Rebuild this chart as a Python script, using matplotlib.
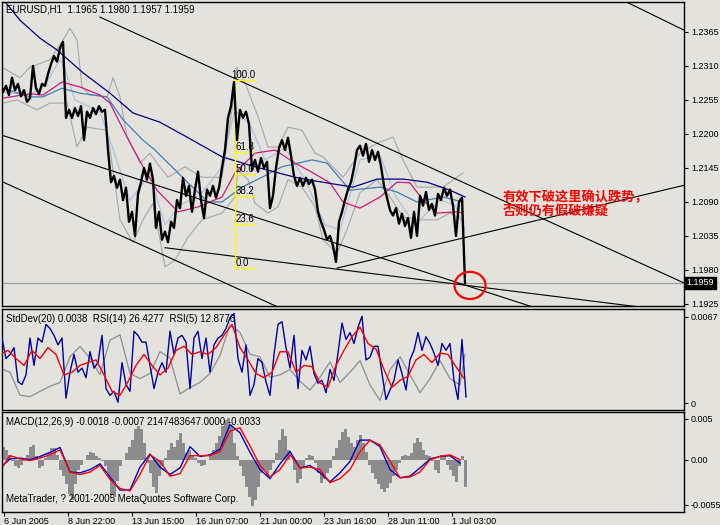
import numpy as np
import matplotlib.pyplot as plt
from matplotlib.patches import Ellipse
from matplotlib.transforms import blended_transform_factory

plt.rcParams['font.family'] = ['Liberation Sans', 'DejaVu Sans']
BG = '#e3e2dd'

# ---- main window: EURUSD H1, bar number on x ----
price_bars = np.arange(3, 466, 3)
price = [1.2268, 1.2278, 1.2263, 1.2291, 1.2271, 1.2281, 1.2261, 1.2271, 1.2252, 1.2258,
         1.2310, 1.2274, 1.2265, 1.2281, 1.2278, 1.2297, 1.2313, 1.2326, 1.2317, 1.2339,
         1.2349, 1.2226, 1.2239, 1.2226, 1.2242, 1.2229, 1.2245, 1.2190, 1.2236, 1.2226,
         1.2242, 1.2232, 1.2245, 1.2236, 1.2239, 1.2174, 1.2122, 1.2132, 1.2113, 1.2126,
         1.2093, 1.2113, 1.2058, 1.2074, 1.2035, 1.2103, 1.2122, 1.2145, 1.2126, 1.2152,
         1.2126, 1.2048, 1.2074, 1.2029, 1.2042, 1.2025, 1.2058, 1.2048, 1.2093, 1.2080,
         1.2129, 1.2100, 1.2116, 1.2074, 1.2110, 1.2139, 1.2093, 1.2064, 1.2110, 1.2100,
         1.2116, 1.2097, 1.2113, 1.2145, 1.2174, 1.2226, 1.2245, 1.2284, 1.2190, 1.2239,
         1.2226, 1.2236, 1.2216, 1.2142, 1.2158, 1.2139, 1.2161, 1.2145, 1.2155, 1.2080,
         1.2100, 1.2145, 1.2177, 1.2190, 1.2174, 1.2194, 1.2165, 1.2132, 1.2116, 1.2129,
         1.2116, 1.2129, 1.2119, 1.2126, 1.2110, 1.2074, 1.2058, 1.2045, 1.2029, 1.2035,
         1.2019, 1.1993, 1.2058, 1.2074, 1.2093, 1.2110, 1.2122, 1.2145, 1.2174, 1.2181,
         1.2165, 1.2184, 1.2155, 1.2174, 1.2158, 1.2171, 1.2148, 1.2116, 1.2097, 1.2077,
         1.2068, 1.2080, 1.2055, 1.2071, 1.2051, 1.2064, 1.2032, 1.2074, 1.2035, 1.2100,
         1.2084, 1.2106, 1.2077, 1.2087, 1.2068, 1.2103, 1.2093, 1.2113, 1.2100, 1.2110,
         1.2084, 1.2035, 1.2090, 1.2097, 1.1959]

ma_slow_bars = [5, 20, 40, 57, 83, 110, 133, 160, 188, 222, 255, 295, 315, 353, 377, 403, 427, 450, 465]
ma_slow = [1.2414, 1.2384, 1.2355, 1.2336, 1.2299, 1.2266, 1.2234, 1.2219, 1.2194, 1.2163,
           1.2147, 1.2130, 1.2124, 1.2114, 1.2127, 1.2127, 1.2122, 1.2109, 1.2098]

ma_mid_bars = [3, 30, 43, 62, 80, 107, 123, 143, 155, 188, 208, 222, 242, 262, 282, 312, 327,
               350, 380, 397, 417, 443, 463]
ma_mid = [1.2274, 1.2260, 1.2260, 1.2274, 1.2266, 1.2260, 1.2223, 1.2190, 1.2174, 1.2121, 1.2090,
          1.2090, 1.2114, 1.2130, 1.2147, 1.2158, 1.2153, 1.2109, 1.2114, 1.2106, 1.2090, 1.2098, 1.2090]

ma_pink_bars = [3, 30, 43, 62, 80, 100, 110, 127, 143, 157, 178, 198, 222, 235, 255, 275, 295,
                312, 330, 343, 360, 380, 397, 410, 423, 437, 457, 463]
ma_pink = [1.2258, 1.2265, 1.2263, 1.2284, 1.2276, 1.2263, 1.2250, 1.2195, 1.2147, 1.2109,
           1.2074, 1.2082, 1.2098, 1.2137, 1.2169, 1.2174, 1.2153, 1.2138, 1.2121, 1.2090,
           1.2080, 1.2098, 1.2122, 1.2121, 1.2093, 1.2072, 1.2074, 1.2072]

ma_fast_bars = [3, 30, 45, 60, 65, 75, 100, 110, 130, 150, 165, 180, 200, 220, 235, 250, 265,
                285, 305, 325, 340, 360, 380, 395, 415, 440, 455, 465]
ma_fast = [1.2268, 1.2263, 1.2279, 1.2320, 1.2304, 1.2255, 1.2236, 1.2190, 1.2093, 1.2134,
           1.2053, 1.2085, 1.2101, 1.2142, 1.2239, 1.2215, 1.2158, 1.2177, 1.2126, 1.2053,
           1.2045, 1.2158, 1.2166, 1.2101, 1.2053, 1.2093, 1.2085, 1.2045]

bb_up_bars = [3, 20, 30, 50, 63, 70, 77, 82, 90, 107, 113, 120, 127, 140, 150, 157, 168, 185,
              202, 222, 232, 237, 245, 258, 268, 278, 288, 302, 315, 323, 343, 360, 377, 393,
              403, 417, 443, 463]
bb_up = [1.2307, 1.2291, 1.2308, 1.2320, 1.2352, 1.2371, 1.2352, 1.2276, 1.2263, 1.2260,
         1.2291, 1.2260, 1.2195, 1.2153, 1.2169, 1.2153, 1.2130, 1.2147, 1.2130, 1.2130,
         1.2239, 1.2308, 1.2283, 1.2228, 1.2179, 1.2179, 1.2211, 1.2206, 1.2169, 1.2163,
         1.2130, 1.2169, 1.2185, 1.2195, 1.2158, 1.2114, 1.2114, 1.2137]

bb_dn_bars = [3, 17, 37, 50, 67, 77, 87, 107, 113, 120, 133, 143, 153, 160, 165, 175, 188, 202,
              222, 235, 238, 248, 255, 268, 278, 288, 302, 315, 323, 337, 347, 360, 377, 390,
              403, 417, 437, 450, 463]
bb_dn = [1.2250, 1.2255, 1.2239, 1.2250, 1.2250, 1.2179, 1.2211, 1.2206, 1.2142, 1.2061,
         1.2024, 1.2061, 1.2088, 1.2029, 1.1985, 1.1996, 1.2033, 1.2061, 1.2072, 1.2098,
         1.2142, 1.2126, 1.2088, 1.2072, 1.2082, 1.2126, 1.2114, 1.2082, 1.2029, 1.2007,
         1.2045, 1.2105, 1.2126, 1.2098, 1.2066, 1.2061, 1.2061, 1.2072, 1.2061]

# trend lines: (bar0, price0, bar1, price1)
trend_lines = [(100, 1.2389, 684, 1.1959),
               (622, 1.2417, 684, 1.2368),
               (337, 1.1983, 684, 1.2117),
               (2, 1.2198, 533, 1.1920),
               (165, 1.2016, 640, 1.1920),
               (2, 1.2123, 278, 1.1920)]

fib_bar, fib_high, fib_low = 235, 1.2287, 1.1983
fib_levels = [100.0, 61.8, 50.0, 38.2, 23.6, 0.0]
last_price = 1.1959
price_ticks = [1.2365, 1.2310, 1.2255, 1.2200, 1.2145, 1.2090, 1.2035, 1.1980, 1.1925]

# ---- StdDev / RSI window ----
sd_bars = list(range(0, 461, 10)) + [465]
stddev = [0.0027, 0.0024, 0.0006, 0.0005, 0.0009, 0.0013, 0.0016, 0.0036, 0.0044, 0.0035,
          0.0022, 0.0049, 0.0053, 0.0023, 0.0019, 0.0023, 0.0040, 0.0035, 0.0007, 0.0012,
          0.0016, 0.0023, 0.0037, 0.0061, 0.0055, 0.0038, 0.0036, 0.0020, 0.0022, 0.0026,
          0.0017, 0.0010, 0.0020, 0.0032, 0.0016, 0.0024, 0.0033, 0.0014, 0.0002, 0.0026,
          0.0036, 0.0022, 0.0008, 0.0019, 0.0033, 0.0019, 0.0014, 0.0038]

rsi14_bars = np.arange(0, 465, 8)
rsi14 = [44, 47, 41, 36, 47, 41, 49, 44, 29, 31, 36, 38, 40, 29, 17, 14, 24, 36, 44, 36,
         29, 34, 47, 50, 44, 46, 44, 49, 58, 66, 49, 40, 30, 27, 31, 46, 46, 31, 36, 35,
         23, 20, 36, 47, 57, 64, 52, 48, 33, 20, 25, 28, 40, 44, 38, 45, 44, 35, 26.4]

rsi5_bars = np.arange(2, 467, 4)
rsi5 = [56, 41, 44, 49, 24, 22, 29, 56, 36, 56, 53, 66, 63, 58, 51, 56, 12, 31, 44, 31,
        34, 27, 46, 34, 38, 58, 19, 14, 17, 9, 38, 22, 17, 61, 58, 53, 53, 36, 19, 31,
        38, 31, 61, 44, 56, 58, 53, 19, 56, 61, 41, 56, 31, 51, 56, 58, 63, 71, 74, 41,
        31, 51, 14, 22, 41, 38, 24, 14, 44, 66, 68, 49, 34, 58, 19, 47, 40, 50, 30, 23,
        25, 16, 33, 25, 45, 67, 55, 60, 52, 64, 72, 40, 42, 50, 50, 30, 11, 18, 25, 40,
        30, 18, 40, 47, 60, 47, 57, 52, 45, 36, 52, 47, 52, 25, 11, 55, 12.9]

# ---- MACD window ----
hist_bars = np.arange(0, 466, 3)
macd_hist = [0.0016, 0.0016, 0.0012, 0.0006, -0.0002, -0.0008, -0.0010, -0.0006, -0.0001, 0.0006,
             0.0016, 0.0018, 0.0004, -0.0010, -0.0008, 0.0002, 0.0008, 0.0014, 0.0014, 0.0006,
             -0.0012, -0.0020, -0.0030, -0.0042, -0.0049, -0.0030, -0.0012, -0.0006, 0.0000, 0.0006,
             0.0010, 0.0008, 0.0004, 0.0002, -0.0002, -0.0008, -0.0020, -0.0043, -0.0045, -0.0026,
             -0.0008, 0.0000, 0.0008, 0.0016, 0.0024, 0.0037, 0.0041, 0.0037, 0.0020, -0.0004,
             -0.0016, -0.0033, -0.0041, -0.0020, -0.0008, 0.0002, 0.0012, 0.0020, 0.0016, 0.0024,
             0.0033, 0.0020, 0.0008, 0.0012, 0.0006, 0.0002, -0.0004, -0.0008, -0.0006, 0.0000,
             0.0004, 0.0012, 0.0020, 0.0029, 0.0041, 0.0049, 0.0051, 0.0041, 0.0020, 0.0004,
             -0.0008, -0.0020, -0.0033, -0.0045, -0.0057, -0.0049, -0.0033, -0.0016, -0.0012, -0.0020,
             -0.0012, -0.0004, 0.0008, 0.0024, 0.0037, 0.0029, 0.0012, 0.0000, -0.0012, -0.0029,
             -0.0024, -0.0010, 0.0002, 0.0006, 0.0005, -0.0004, -0.0016, -0.0028, -0.0024, -0.0016,
             -0.0010, 0.0004, 0.0014, 0.0024, 0.0034, 0.0037, 0.0028, 0.0020, 0.0016, 0.0024,
             0.0030, 0.0020, 0.0010, -0.0006, -0.0016, -0.0024, -0.0030, -0.0036, -0.0039, -0.0035,
             -0.0028, -0.0020, -0.0012, -0.0004, 0.0004, 0.0006, 0.0004, 0.0008, 0.0020, 0.0027,
             0.0022, 0.0012, 0.0006, 0.0004, -0.0002, -0.0012, -0.0016, 0.0006, 0.0004, -0.0006,
             -0.0012, -0.0020, -0.0027, -0.0008, 0.0005, -0.0033]

macd_bars = np.arange(0, 461, 10)
macd_main = [-0.0010, 0.0001, 0.0002, 0.0000, 0.0004, 0.0009, 0.0015, -0.0015, -0.0016, -0.0012,
             -0.0005, -0.0021, -0.0037, -0.0037, -0.0009, 0.0007, -0.0009, -0.0018, -0.0010, 0.0016,
             0.0004, 0.0006, 0.0013, 0.0043, 0.0033, 0.0009, -0.0012, -0.0023, -0.0005, 0.0010,
             -0.0010, -0.0007, -0.0016, -0.0027, -0.0016, -0.0002, 0.0024, 0.0024, 0.0016, -0.0012,
             -0.0022, -0.0020, -0.0010, 0.0001, 0.0004, 0.0005, -0.0004]
macd_signal = [-0.0013, 0.0005, 0.0001, -0.0001, 0.0002, 0.0006, 0.0012, -0.0015, -0.0018, -0.0015,
               -0.0007, -0.0024, -0.0035, -0.0038, -0.0018, 0.0006, -0.0002, -0.0020, -0.0017, 0.0005,
               0.0005, 0.0005, 0.0010, 0.0035, 0.0039, 0.0017, -0.0007, -0.0021, -0.0012, 0.0006,
               -0.0010, -0.0009, -0.0012, -0.0028, -0.0023, -0.0012, 0.0010, 0.0024, 0.0018, -0.0002,
               -0.0022, -0.0021, -0.0015, 0.0000, 0.0004, 0.0006, 0.0000]

time_ticks = [4, 68, 132, 196, 260, 324, 388, 452]
time_labels = ['6 Jun 2005', '8 Jun 22:00', '13 Jun 15:00', '16 Jun 07:00',
               '21 Jun 00:00', '23 Jun 16:00', '28 Jun 11:00', '1 Jul 03:00']

W, H = 720, 525


def box(l, t, r, b):
    return [l / W, 1 - b / H, (r - l) / W, (b - t) / H]


def fp(x, y):
    return x / W, 1 - y / H


fig = plt.figure(figsize=(7.2, 5.25), dpi=100, facecolor=BG)
ax = fig.add_axes(box(2, 2, 684, 306), facecolor=BG)
ax2 = fig.add_axes(box(2, 309, 684, 410), facecolor=BG)
ax3 = fig.add_axes(box(2, 412, 684, 512), facecolor=BG)

# StdDev / RSI share one window; RSI gets its own hidden scale
ax2b = ax2.twinx()
ax2b.set_ylim(3.3, 77.3)
ax2b.axis('off')

for a in (ax, ax2, ax3):
    a.set_xlim(2, 684)
    for s in a.spines.values():
        s.set_color('black')
        s.set_linewidth(1.0)
    a.yaxis.tick_right()
    a.tick_params(axis='y', direction='out', length=3, width=0.8, labelsize=6.5, pad=2)
    a.tick_params(axis='x', bottom=False, labelbottom=False)

# main window
ax.set_ylim(1.19217, 1.24135)
ax.plot(bb_up_bars, bb_up, color='#a8a8a8', lw=0.8)
ax.plot(bb_dn_bars, bb_dn, color='#a8a8a8', lw=0.8)
ax.plot(ma_fast_bars, ma_fast, color='#a9bfe0', lw=0.8)
ax.plot(ma_mid_bars, ma_mid, color='#3d7fbf', lw=0.9)
ax.plot(ma_pink_bars, ma_pink, color='#d01a7a', lw=0.9)
ax.plot(ma_slow_bars, ma_slow, color='#00008b', lw=0.9)
ax.axhline(last_price, color='#a0a0a0', lw=0.9)
for x0, y0, x1, y1 in trend_lines:
    ax.plot([x0, x1], [y0, y1], color='black', lw=0.8)
ax.plot(price_bars, price, color='black', lw=1.7, zorder=5)

# fibonacci
ax.plot([fib_bar, fib_bar], [fib_low, fib_high], color='#ffff00', lw=1.0, zorder=4)
for lv in fib_levels:
    p = fib_low + (fib_high - fib_low) * lv / 100
    ax.plot([fib_bar, fib_bar + 19], [p, p], color='#ffff00', lw=1.0, zorder=4)
    ax.text(fib_bar + (-4 if lv == 100 else 1), p, '%.1f' % lv, fontsize=7,
            va='bottom', ha='left', zorder=6)

ax.add_patch(Ellipse((470, 1.1955), 31, 0.0044, fill=False, ec='red', lw=1.6, zorder=7))
cjk = ['Noto Sans CJK SC', 'DejaVu Sans']
ax.text(503, 1.2098, '有效下破这里确认跌势，', color='red', fontsize=9.5, fontweight='bold',
        family=cjk, va='center', ha='left')
ax.text(503, 1.2076, '否则仍有假破嫌疑', color='red', fontsize=9.5, fontweight='bold',
        family=cjk, va='center', ha='left')

ax.set_yticks(price_ticks)
ax.set_yticklabels(['%.4f' % v for v in price_ticks])
tr = blended_transform_factory(ax.transAxes, ax.transData)
ax.text(1.004, last_price, '%.4f' % last_price, transform=tr, color='white', fontsize=6.5,
        va='center', ha='left', clip_on=False,
        bbox=dict(boxstyle='square,pad=0.2', fc='black', ec='black'))

fig.text(*fp(6, 10), 'EURUSD,H1  1.1965 1.1980 1.1957 1.1959', fontsize=7, va='center')

# StdDev / RSI window
ax2.set_ylim(-0.000545, 0.00732)
ax2.plot(sd_bars, stddev, color='#909090', lw=0.9)
ax2.set_yticks([0.0067, 0])
ax2.set_yticklabels(['0.0067', '0'])
ax2.text(*fp(6, 319), 'StdDev(20) 0.0038  RSI(14) 26.4277  RSI(5) 12.8776', fontsize=7,
         va='center', transform=fig.transFigure, zorder=1)
ax2b.plot(rsi5_bars, rsi5, color='#0000a0', lw=1.0)
ax2b.plot(rsi14_bars, rsi14, color='red', lw=1.0)

# MACD window
ax3.set_ylim(-0.00638, 0.00583)
ax3.bar(hist_bars, macd_hist, width=3, color='#8c8c8c', lw=0)
ax3.plot(macd_bars, macd_main, color='#0000cd', lw=1.0)
ax3.plot(macd_bars, macd_signal, color='red', lw=1.0)
ax3.set_yticks([0.005, 0.0, -0.0055])
ax3.set_yticklabels(['0.005', '0.00', '-0.0055'])
ax3.text(*fp(6, 422), 'MACD(12,26,9) -0.0018 -0.0007 2147483647.0000 -0.0033', fontsize=7,
         va='center', transform=fig.transFigure, zorder=1)
ax3.text(*fp(6, 499), 'MetaTrader, ? 2001-2005 MetaQuotes Software Corp.', fontsize=7,
         va='center', transform=fig.transFigure, zorder=1)
ax3.set_xticks(time_ticks)
ax3.set_xticklabels(time_labels)
ax3.tick_params(axis='x', bottom=True, labelbottom=True, direction='out', length=3,
                width=0.8, labelsize=6.5, pad=0.5)
for lab in ax3.get_xticklabels():
    lab.set_horizontalalignment('left')

fig.savefig('out.png', dpi=100, facecolor=BG)
